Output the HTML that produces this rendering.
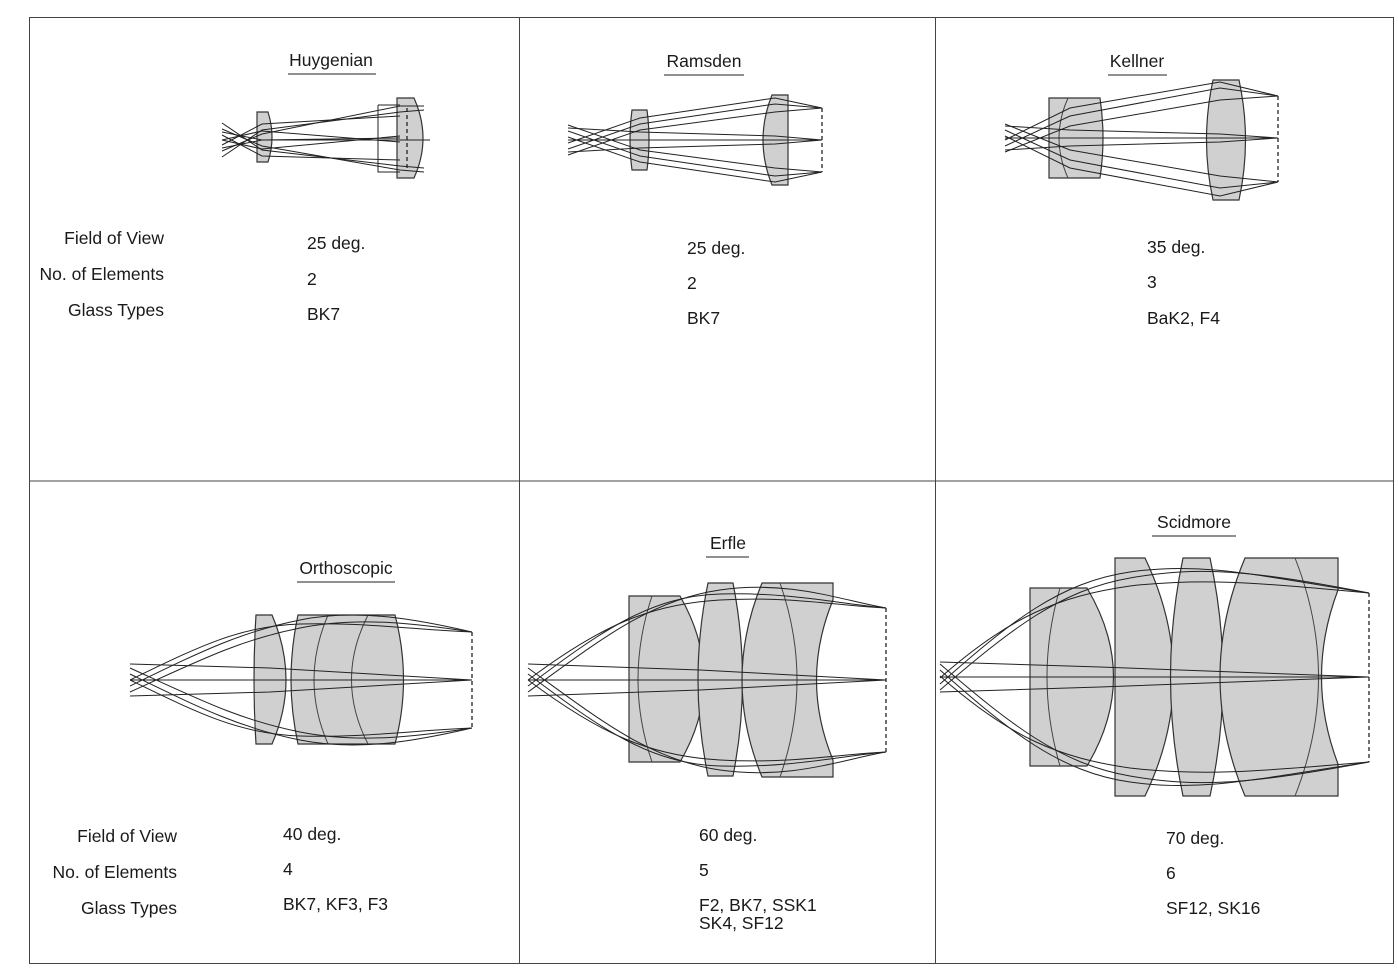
<!DOCTYPE html>
<html><head><meta charset="utf-8"><style>
body{margin:0;background:#fff;}
svg text{font-family:"Liberation Sans",sans-serif;font-size:17.5px;fill:#1a1a1a;}
.l{fill:#d0d0d0;stroke:#333;stroke-width:1.2}
.i{fill:none;stroke:#444;stroke-width:1}
.r{fill:none;stroke:#222;stroke-width:1}
.d{stroke:#222;stroke-width:1.3;stroke-dasharray:4 3}
.u{stroke:#222;stroke-width:1}
</style></head><body>
<svg width="1398" height="967" viewBox="0 0 1398 967" xmlns="http://www.w3.org/2000/svg">
<rect x="0" y="0" width="1398" height="967" fill="#fff"/>
<rect x="29.5" y="17.5" width="1364" height="946" fill="none" stroke="#444" stroke-width="1"/>
<line x1="29" y1="481" x2="1393" y2="481" stroke="#444"/>
<line x1="519.5" y1="17" x2="519.5" y2="963" stroke="#444"/>
<line x1="935.5" y1="17" x2="935.5" y2="963" stroke="#444"/>

<text x="331" y="66" text-anchor="middle">Huygenian</text><line class="u" x1="288" y1="74" x2="376" y2="74"/>
<text x="704" y="67" text-anchor="middle">Ramsden</text><line class="u" x1="664" y1="75" x2="744" y2="75"/>
<text x="1137" y="67" text-anchor="middle">Kellner</text><line class="u" x1="1108" y1="75" x2="1167" y2="75"/>
<text x="346" y="574" text-anchor="middle">Orthoscopic</text><line class="u" x1="297" y1="582" x2="395" y2="582"/>
<text x="728" y="549" text-anchor="middle">Erfle</text><line class="u" x1="706" y1="557" x2="749" y2="557"/>
<text x="1194" y="528" text-anchor="middle">Scidmore</text><line class="u" x1="1152" y1="536" x2="1236" y2="536"/>

<text x="164" y="244" text-anchor="end">Field of View</text>
<text x="164" y="280" text-anchor="end">No. of Elements</text>
<text x="164" y="316" text-anchor="end">Glass Types</text>
<text x="307" y="249">25 deg.</text><text x="307" y="285">2</text><text x="307" y="320">BK7</text>
<text x="687" y="254">25 deg.</text><text x="687" y="289">2</text><text x="687" y="324">BK7</text>
<text x="1147" y="253">35 deg.</text><text x="1147" y="288">3</text><text x="1147" y="324">BaK2, F4</text>
<text x="177" y="842" text-anchor="end">Field of View</text>
<text x="177" y="878" text-anchor="end">No. of Elements</text>
<text x="177" y="914" text-anchor="end">Glass Types</text>
<text x="283" y="840">40 deg.</text><text x="283" y="875">4</text><text x="283" y="910">BK7, KF3, F3</text>
<text x="699" y="841">60 deg.</text><text x="699" y="876">5</text><text x="699" y="911">F2, BK7, SSK1</text><text x="699" y="929">SK4, SF12</text>
<text x="1166" y="844">70 deg.</text><text x="1166" y="879">6</text><text x="1166" y="914">SF12, SK16</text>

<path class="l" d="M257,112 L268,112 Q276,137 268,162 L257,162 Z"/>
<path class="l" d="M397,98 L414,98 Q432,138 414,178 L397,178 Z"/>
<path class="r" d="M378,105 L400,105 M378,105 L378,172 L400,172"/>
<line class="d" x1="407" y1="108" x2="407" y2="170"/>
<g class="r">
<path d="M222,123 L262,150 L400,166 L424,168"/><path d="M222,129 L262,146 L400,170 L424,172"/><path d="M222,135 L262,156 L400,160"/>
<path d="M222,157 L262,130 L400,112 L424,110"/><path d="M222,151 L262,134 L400,106 L424,106"/><path d="M222,145 L262,124 L400,116"/>
<path d="M222,132 L262,140 L400,140 L430,140"/><path d="M222,148 L262,140 L400,138"/><path d="M222,140 L262,131 L400,142"/><path d="M222,140 L262,149 L400,136"/>
</g>

<path class="l" d="M632,110 L647,110 Q651,140 647,170 L632,170 Q628,140 632,110Z"/>
<path class="l" d="M772,95 L788,95 L788,185 L772,185 Q754,140 772,95Z"/>
<line class="d" x1="822" y1="108" x2="822" y2="172"/>
<g class="r">
<path d="M568,125 L640,150 L775,168 L822,172"/><path d="M568,131 L640,156 L775,176 L822,172"/><path d="M568,137 L640,162 L775,182 L822,172"/>
<path d="M568,155 L640,130 L775,112 L822,108"/><path d="M568,149 L640,124 L775,104 L822,108"/><path d="M568,143 L640,118 L775,98 L822,108"/>
<path d="M568,128 L640,132 L775,136 L822,140"/><path d="M568,140 L822,140"/><path d="M568,152 L640,148 L775,144 L822,140"/>
</g>

<path class="l" d="M1049,98 L1100,98 Q1106,138 1100,178 L1049,178Z"/>
<path class="i" d="M1068,98 Q1050,138 1068,178"/>
<path class="l" d="M1213,80 L1239,80 Q1252,140 1239,200 L1213,200 Q1200,140 1213,80Z"/>
<line class="d" x1="1278" y1="96" x2="1278" y2="182"/>
<g class="r">
<path d="M1005,124 L1070,150 L1220,176 L1278,182"/><path d="M1005,130 L1070,160 L1220,188 L1278,182"/><path d="M1005,136 L1070,168 L1220,196 L1278,182"/>
<path d="M1005,152 L1070,126 L1220,100 L1278,96"/><path d="M1005,146 L1070,116 L1220,88 L1278,96"/><path d="M1005,140 L1070,108 L1220,82 L1278,96"/>
<path d="M1005,126 L1070,130 L1220,134 L1278,138"/><path d="M1005,138 L1278,138"/><path d="M1005,150 L1070,146 L1220,142 L1278,138"/>
</g>

<path class="l" d="M256,615 L272,615 Q300,680 272,744 L256,744 Q252,680 256,615Z"/>
<path class="l" d="M298,615 L395,615 Q412,680 395,744 L298,744 Q284,680 298,615Z"/>
<path class="i" d="M328,615 Q300,680 328,744"/><path class="i" d="M368,615 Q335,680 368,744"/>
<line class="d" x1="472" y1="632" x2="472" y2="728"/>
<g class="r">
<path d="M130,692 C200,660 240,640 300,628 S420,624 472,632"/><path d="M130,686 C200,652 240,632 300,620 S420,620 472,632"/><path d="M130,680 C200,646 240,626 300,624 S420,630 472,632"/>
<path d="M130,668 C200,700 240,720 300,732 S420,736 472,728"/><path d="M130,674 C200,708 240,728 300,740 S420,740 472,728"/><path d="M130,680 C200,714 240,734 300,736 S420,730 472,728"/>
<path d="M130,664 L270,668 L472,680"/><path d="M130,696 L270,692 L472,680"/><path d="M130,680 L472,680"/>
</g>

<path class="l" d="M629,596 L680,596 Q728,680 680,762 L629,762Z"/>
<path class="i" d="M652,596 Q624,680 652,762"/>
<path class="l" d="M708,583 L733,583 Q752,680 733,776 L708,776 Q688,680 708,583Z"/>
<path class="l" d="M762,583 L833,583 L833,600 Q800,680 833,760 L833,777 L762,777 Q722,680 762,583Z"/>
<path class="i" d="M780,583 Q814,680 780,777"/>
<line class="d" x1="886" y1="608" x2="886" y2="752"/>
<g class="r">
<path d="M528,692 C600,640 650,600 720,590 S840,600 886,608"/><path d="M528,686 C600,632 650,596 720,594 S840,604 886,608"/><path d="M528,680 C600,626 650,604 720,600 S840,606 886,608"/>
<path d="M528,668 C600,720 650,760 720,770 S840,760 886,752"/><path d="M528,674 C600,728 650,764 720,766 S840,756 886,752"/><path d="M528,680 C600,734 650,756 720,760 S840,754 886,752"/>
<path d="M528,664 L700,670 L886,680"/><path d="M528,696 L700,690 L886,680"/><path d="M528,680 L886,680"/>
</g>

<path class="l" d="M1030,588 L1087,588 Q1140,677 1087,766 L1030,766Z"/>
<path class="i" d="M1060,588 Q1034,677 1060,766"/>
<path class="l" d="M1115,558 L1145,558 Q1202,677 1145,796 L1115,796Z"/>
<path class="l" d="M1183,558 L1210,558 Q1236,677 1210,796 L1183,796 Q1158,677 1183,558Z"/>
<path class="l" d="M1245,558 L1338,558 L1338,590 Q1305,677 1338,764 L1338,796 L1245,796 Q1195,677 1245,558Z"/>
<path class="i" d="M1295,558 Q1342,677 1295,796"/>
<line class="d" x1="1369" y1="593" x2="1369" y2="762"/>
<g class="r">
<path d="M940,690 C1010,630 1060,590 1130,578 C1200,566 1250,570 1369,593"/><path d="M940,684 C1010,622 1060,582 1130,572 C1200,562 1250,574 1369,593"/><path d="M940,678 C1010,616 1060,596 1130,586 C1200,578 1250,582 1369,593"/>
<path d="M940,664 C1010,724 1060,764 1130,776 C1200,788 1250,784 1369,762"/><path d="M940,670 C1010,732 1060,772 1130,782 C1200,792 1250,780 1369,762"/><path d="M940,676 C1010,738 1060,758 1130,768 C1200,776 1250,772 1369,762"/>
<path d="M940,662 L1100,667 L1369,677"/><path d="M940,692 L1100,687 L1369,677"/><path d="M940,677 L1369,677"/>
</g>
</svg>
</body></html>
